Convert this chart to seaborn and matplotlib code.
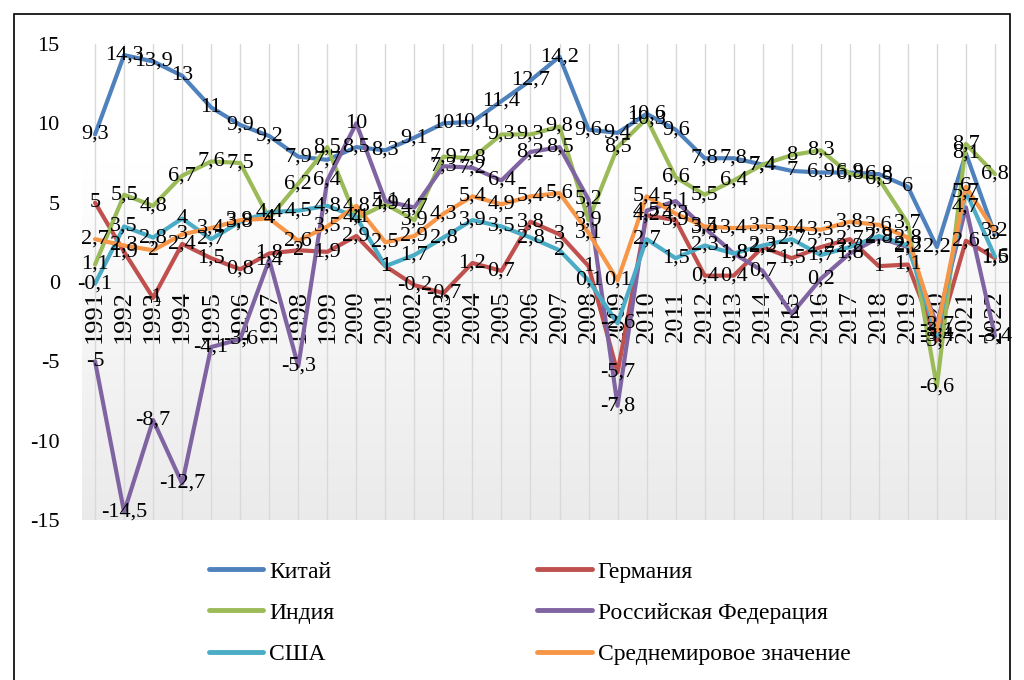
import numpy as np
import pandas as pd
import matplotlib
matplotlib.use("Agg")
import matplotlib.pyplot as plt
import seaborn as sns
from matplotlib.patches import Rectangle

years = list(range(1991, 2023))

china = [9.3, 14.3, 13.9, 13.0, 11.0, 9.9, 9.2, 7.9, 7.7, 8.5, 8.3, 9.1, 10.0, 10.1, 11.4, 12.7,
         14.2, 9.6, 9.4, 10.6, 9.6, 7.8, 7.8, 7.4, 7.0, 6.9, 6.9, 6.8, 6.0, 2.2, 8.1, 3.0]
germany = [5.0, 1.9, -1.0, 2.4, 1.5, 0.8, 1.8, 2.0, 1.9, 2.9, 1.0, -0.2, -0.7, 1.2, 0.7, 3.8,
           3.0, 1.0, -5.7, 4.2, 3.9, 0.4, 0.4, 2.2, 1.5, 2.2, 2.7, 1.0, 1.1, -3.7, 2.6, 1.5]
india = [1.1, 5.5, 4.8, 6.7, 7.6, 7.5, 4.0, 6.2, 8.5, 4.0, 4.9, 3.9, 7.9, 7.8, 9.3, 9.3,
         9.8, 3.9, 8.5, 10.3, 6.6, 5.5, 6.4, 7.4, 8.0, 8.3, 6.8, 6.5, 3.7, -6.6, 8.7, 6.8]
russia = [-5.0, -14.5, -8.7, -12.7, -4.1, -3.6, 1.4, -5.3, 6.4, 10.0, 5.1, 4.7, 7.3, 7.2, 6.4, 8.2,
          8.5, 5.2, -7.8, 4.5, 5.1, 3.4, 1.8, 0.7, -2.0, 0.2, 1.8, 2.8, 2.2, -2.7, 4.7, -3.4]
usa = [-0.1, 3.5, 2.8, 4.0, 2.7, 3.8, 4.4, 4.5, 4.8, 4.1, 1.0, 1.7, 2.8, 3.9, 3.5, 2.8,
       2.0, 0.1, -2.6, 2.7, 1.5, 2.3, 1.8, 2.3, 2.7, 1.7, 2.2, 2.9, 2.3, -3.4, 5.7, 1.6]
world = [2.7, 2.3, 2.0, 3.0, 3.4, 3.9, 4.0, 2.6, 3.5, 4.8, 2.5, 2.9, 4.3, 5.4, 4.9, 5.4,
         5.6, 3.1, 0.1, 5.4, 4.3, 3.5, 3.4, 3.5, 3.4, 3.3, 3.8, 3.6, 2.8, -3.1, 6.0, 3.2]

series = {
    "Китай": china,
    "Германия": germany,
    "Индия": india,
    "Российская Федерация": russia,
    "США": usa,
    "Среднемировое значение": world,
}
colors = ["#4F81BD", "#C0504D", "#9BBB59", "#8064A2", "#4BACC6", "#F79646"]

df = pd.concat([pd.DataFrame({"year": years, "value": v, "country": k}) for k, v in series.items()])

sns.set_style("white")
plt.rcParams["font.family"] = ["Liberation Serif", "DejaVu Serif"]
plt.rcParams["text.color"] = "black"
plt.rcParams["xtick.color"] = "black"
plt.rcParams["ytick.color"] = "black"

fig = plt.figure(figsize=(10.24, 6.8), dpi=100)
ax = fig.add_axes([82 / 1024, 1 - 520 / 680, (1008 - 82) / 1024, (520 - 44) / 680])

# gradient background of the plot area
grad = np.linspace(0, 1, 256).reshape(-1, 1)
grad = 1 - 0.08 * np.clip((grad - 0.25) / 0.75, 0, 1)
ax.imshow(np.dstack([grad, grad, grad]), extent=[1990.55, 2022.45, -15, 15],
          aspect="auto", origin="upper", zorder=0)

for y in years:
    ax.axvline(y, color="#d9d9d9", lw=1, zorder=1)

sns.lineplot(data=df, x="year", y="value", hue="country", palette=colors,
             hue_order=list(series.keys()), sort=False, lw=3, ax=ax, legend=False,
             solid_joinstyle="round", solid_capstyle="round", zorder=3)

for name, vals in series.items():
    for x, v in zip(years, vals):
        ax.text(x, v, f"{v:g}".replace(".", ","), ha="center", va="center",
                fontsize=16, color="black", zorder=5)

# axis at zero (set before ticks, set_position resets tick styling)
for s in ["top", "right", "left"]:
    ax.spines[s].set_visible(False)
ax.spines["bottom"].set_position(("data", 0))
ax.spines["bottom"].set_color("#d9d9d9")

ax.set_xlim(1990.55, 2022.45)
ax.set_ylim(-15, 15)
ax.set_yticks([-15, -10, -5, 0, 5, 10, 15])
ax.set_yticklabels(["-15", "-10", "-5", "0", "5", "10", "15"], fontsize=16)
ax.set_xticks(years)
ax.set_xticklabels([str(y) for y in years], rotation=90, fontsize=19)
ax.set_xlabel("")
ax.set_ylabel("")
ax.tick_params(axis="both", length=0, labelcolor="black")
ax.tick_params(axis="y", pad=16)
ax.tick_params(axis="x", pad=6)

handles = [plt.Line2D([], [], color=c, lw=3.5) for c in colors]
names = list(series.keys())
order = [0, 2, 4, 1, 3, 5]
fig.legend([handles[i] for i in order], [names[i] for i in order], ncol=2,
           loc="upper left", bbox_to_anchor=(209 / 1024, 1 - 561 / 680),
           frameon=False, fontsize=17, handlelength=2.3, handletextpad=0.25,
           labelspacing=0.83, columnspacing=8.6, borderaxespad=0, borderpad=0)

fig.patches.append(Rectangle((14 / 1024, -0.01), (1010 - 14) / 1024, 1 - 14 / 680 + 0.01,
                             transform=fig.transFigure, fill=False, edgecolor="black", lw=1.2))

fig.savefig("out.png", dpi=100)
